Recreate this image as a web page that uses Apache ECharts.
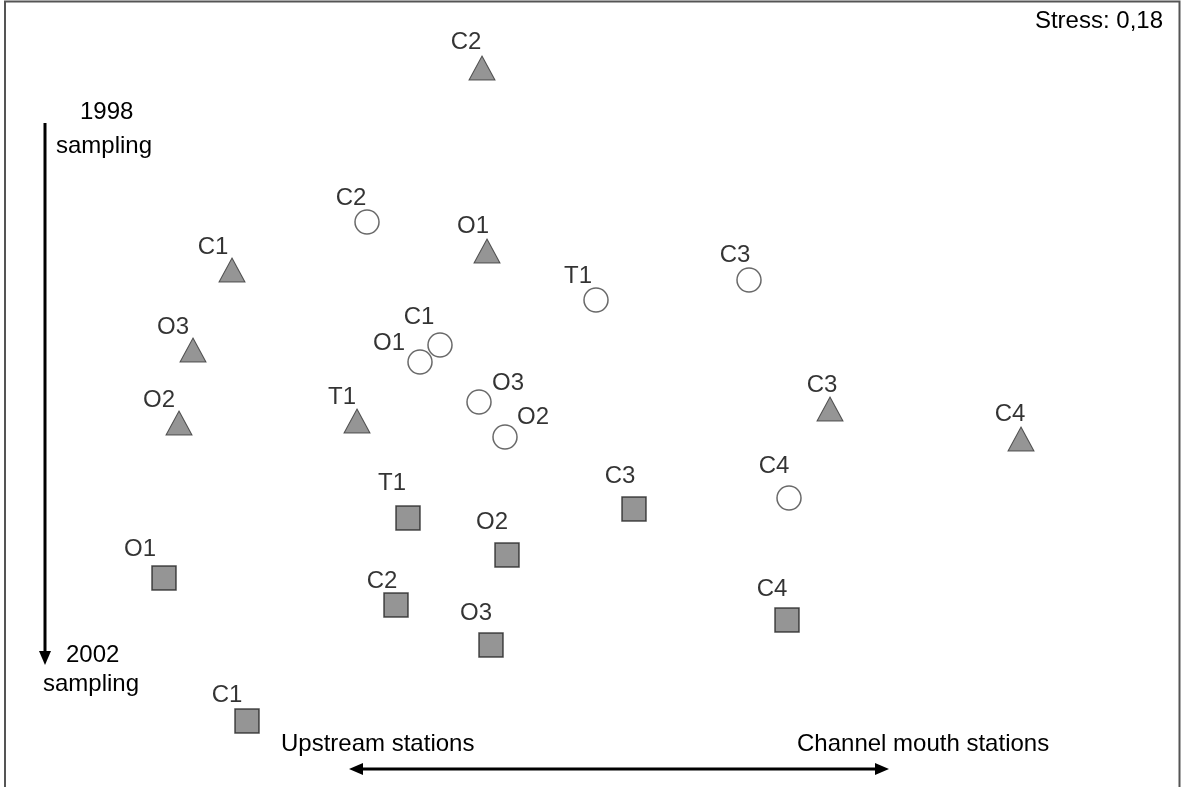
<!DOCTYPE html>
<html>
<head>
<meta charset="utf-8">
<script src="https://cdn.jsdelivr.net/npm/echarts@6/dist/echarts.min.js"></script>
<style>
  html, body { margin: 0; padding: 0; background: #fff; }
  #chart { width: 1181px; height: 787px; }
</style>
</head>
<body>
<div id="chart"></div>
<script>
// NMDS ordination scores (plot units)
const stations = ['C1', 'C2', 'C3', 'C4', 'O1', 'O2', 'O3', 'T1']
// 1998 sampling (triangles)
const tri1998X = [232, 482, 830, 1021, 487, 179, 193, 357]
const tri1998Y = [270, 68, 409, 439, 251, 423, 350, 421]
// intermediate sampling (circles)
const circMidX = [440, 367, 749, 789, 420, 505, 479, 596]
const circMidY = [345, 222, 280, 498, 362, 437, 402, 300]
// 2002 sampling (squares)
const sq2002X = [247, 396, 634, 787, 164, 507, 491, 408]
const sq2002Y = [721, 605, 509, 620, 578, 555, 645, 518]

// label offsets (layout only)
const triOff = [[-19, -23], [-16, -26], [-8, -24], [-11, -25], [-14, -25], [-20, -23], [-20, -23], [-15, -24]]
const circOff = [[-21, -28], [-16, -24], [-14, -25], [-15, -32], [-31, -19], [28, -20], [29, -19], [-18, -24]]
const sqOff = [[-20, -26], [-14, -24], [-14, -33], [-15, -31], [-24, -29], [-15, -33], [-15, -32], [-16, -35]]

const FONT = 'Liberation Sans, Arial, sans-serif'
const FS = 24
const chart = echarts.init(document.getElementById('chart'))

function build (xs, ys, offs) {
  return stations.map((name, i) => ({
    name: name,
    value: [xs[i], ys[i]],
    label: { offset: offs[i] }
  }))
}

const labelBase = {
  show: true,
  position: 'inside',
  formatter: '{b}',
  color: '#000',
  fontFamily: FONT,
  fontSize: FS
}

function txt (left, top, text) {
  return {
    type: 'text', left: left, top: top,
    style: { text: text, font: FS + 'px ' + FONT, fill: '#000' }
  }
}

const option = {
  backgroundColor: '#fff',
  animation: false,
  grid: { left: 0, right: 0, top: 0, bottom: 0 },
  xAxis: { type: 'value', min: 0, max: 1181, show: false },
  yAxis: { type: 'value', min: 0, max: 787, inverse: true, show: false },
  series: [
    {
      type: 'scatter',
      symbol: 'triangle',
      symbolSize: [26, 24],
      itemStyle: { color: '#7a7a7a', borderColor: '#333', borderWidth: 1 },
      label: labelBase,
      data: build(tri1998X, tri1998Y, triOff)
    },
    {
      type: 'scatter',
      symbol: 'circle',
      symbolSize: 24,
      itemStyle: { color: '#fff', borderColor: '#444', borderWidth: 1.5 },
      label: labelBase,
      data: build(circMidX, circMidY, circOff)
    },
    {
      type: 'scatter',
      symbol: 'rect',
      symbolSize: 24,
      itemStyle: { color: '#7a7a7a', borderColor: '#222', borderWidth: 1.5 },
      label: labelBase,
      data: build(sq2002X, sq2002Y, sqOff)
    }
  ],
  graphic: [
    // frame (left, top, right)
    {
      type: 'polyline',
      shape: { points: [[5, 787], [5, 1.5], [1179.5, 1.5], [1179.5, 787]] },
      style: { stroke: '#555', lineWidth: 2, fill: null }
    },
    {
      type: 'text', right: 18, top: 9,
      style: { text: 'Stress: 0,18', font: FS + 'px ' + FONT, fill: '#000' }
    },
    // vertical time arrow
    {
      type: 'line',
      shape: { x1: 45, y1: 123, x2: 45, y2: 652 },
      style: { stroke: '#000', lineWidth: 3 }
    },
    {
      type: 'polygon',
      shape: { points: [[39, 651], [51, 651], [45, 665]] },
      style: { fill: '#000' }
    },
    txt(80, 100, '1998'),
    txt(56, 134, 'sampling'),
    txt(66, 643, '2002'),
    txt(43, 672, 'sampling'),
    // horizontal station arrow
    {
      type: 'line',
      shape: { x1: 360, y1: 769, x2: 878, y2: 769 },
      style: { stroke: '#000', lineWidth: 3 }
    },
    {
      type: 'polygon',
      shape: { points: [[349, 769], [363, 763], [363, 775]] },
      style: { fill: '#000' }
    },
    {
      type: 'polygon',
      shape: { points: [[889, 769], [875, 763], [875, 775]] },
      style: { fill: '#000' }
    },
    txt(281, 732, 'Upstream stations'),
    txt(797, 732, 'Channel mouth stations')
  ]
}

chart.setOption(option)
</script>
</body>
</html>
